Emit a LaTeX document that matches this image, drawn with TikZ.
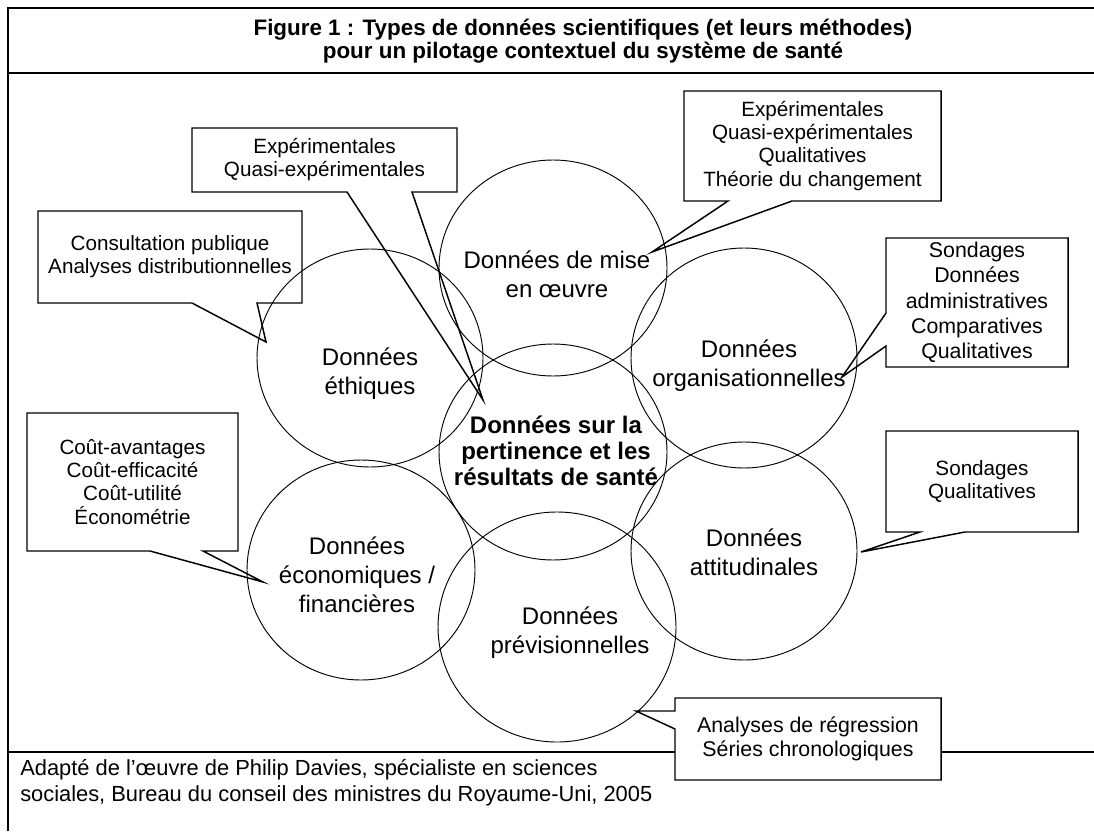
\documentclass[tikz,border=0pt]{standalone}
\usepackage{fontspec}
\setmainfont{Liberation Sans}
\begin{document}
\begin{tikzpicture}[x=0.75pt,y=-0.75pt,
  frame/.style={line width=1.3pt},
  circ/.style={line width=0.7pt},
  callout/.style={line width=1.1pt, line join=miter},
  box/.style={inner sep=0pt, outer sep=0pt, align=center, font=\fontsize{15.5}{17.3}\selectfont},
  ctext/.style={inner sep=0pt, align=center, font=\fontsize{18}{21.8}\selectfont},
  ctextb/.style={inner sep=0pt, align=center, font=\fontsize{18}{19.5}\selectfont\bfseries},
  titlestyle/.style={inner sep=0pt, align=center, font=\fontsize{16.8}{16.8}\selectfont\bfseries},
  footstyle/.style={inner sep=0pt, align=left, anchor=west, font=\fontsize{16.4}{19.5}\selectfont}]
\useasboundingbox (0,0) rectangle (1094,831);

% frame
\coordinate (tl) at (8,8);
\coordinate (tr) at (1094,8);
\coordinate (bl) at (8,831);
\coordinate (hl) at (8,73);
\coordinate (hr) at (1094,73);
\coordinate (fl) at (8,752);
\coordinate (fr) at (1094,752);
\draw[frame] (bl) -- (tl) -- (tr);
\draw[frame] (hl) -- (hr);

% title
\node[titlestyle] (title) at (583,41) {Figure 1 : Types de données scientifiques (et leurs méthodes)\\pour un pilotage contextuel du système de santé};

% circles
\coordinate (ceth) at (370,358);
\coordinate (cmise) at (553,268);
\coordinate (corg) at (744,358);
\coordinate (ccen) at (553,452);
\coordinate (ceco) at (361,570);
\coordinate (catt) at (744,551);
\coordinate (cprev) at (557,627);
\draw[circ] (ceth) ellipse [x radius=113, y radius=109];
\draw[circ] (cmise) ellipse [x radius=114, y radius=108];
\draw[circ] (corg) ellipse [x radius=113, y radius=110];
\draw[circ] (ccen) ellipse [x radius=114, y radius=108];
\draw[circ] (ceco) ellipse [x radius=114, y radius=110];
\draw[circ] (catt) ellipse [x radius=113, y radius=109];
\draw[circ] (cprev) ellipse [x radius=119, y radius=115];

% circle labels
\node[ctext] (leth) at (370,374) {Données\\éthiques};
\node[ctext] (lmise) at (557,274) {Données de mise\\en œuvre};
\node[ctext] (lorg) at (749,366) {Données\\organisationnelles};
\node[ctextb] (lcen) at (556,451) {Données sur la\\pertinence et les\\résultats de santé};
\node[ctext] (leco) at (357,575) {Données\\économiques /\\financières};
\node[ctext] (latt) at (754,552) {Données\\attitudinales};
\node[ctext] (lprev) at (570,633) {Données\\prévisionnelles};

% callout texts
\node[box, minimum width=198.75pt, minimum height=48pt] (c1) at (324.5,160) {Expérimentales\\Quasi-expérimentales};
\node[box, minimum width=198pt, minimum height=69pt] (c2) at (170,257) {Consultation publique\\Analyses distributionnelles};
\node[box, minimum width=192.75pt, minimum height=82.5pt] (c3) at (812.5,146) {Expérimentales\\Quasi-expérimentales\\Qualitatives\\Théorie du changement};
\node[box, minimum width=136.5pt, minimum height=96.75pt, font=\fontsize{16}{19}\selectfont] (c4) at (977,302.5) {Sondages\\Données\\administratives\\Comparatives\\Qualitatives};
\node[box, minimum width=144pt, minimum height=75.75pt] (c5) at (982,481.5) {Sondages\\Qualitatives};
\node[box, minimum width=158.25pt, minimum height=103.5pt] (c6) at (132.5,482) {Coût-avantages\\Coût-efficacité\\Coût-utilité\\Économétrie};
\node[box, minimum width=199.5pt, minimum height=61.5pt, font=\fontsize{16}{18.5}\selectfont] (c7) at (808,739) {Analyses de régression\\Séries chronologiques};

% pointer coordinates
\coordinate (p1a) at (347,192); \coordinate (p1b) at (412,192); \coordinate (t1) at (483,400);
\coordinate (p2a) at (192,303); \coordinate (p2b) at (257,303); \coordinate (t2) at (266,342);
\coordinate (p3a) at (728,201); \coordinate (p3b) at (792,201); \coordinate (t3) at (652,252);
\coordinate (p4a) at (886,313); \coordinate (p4b) at (886,346); \coordinate (t4) at (842,377);
\coordinate (p5a) at (920,532); \coordinate (p5b) at (965,532); \coordinate (t5) at (861,552);
\coordinate (p6a) at (150,551); \coordinate (p6b) at (203,551); \coordinate (t6) at (263,582);
\coordinate (p7a) at (675,711); \coordinate (p7b) at (675,729); \coordinate (t7) at (636,711);

% callout outlines
\draw[callout] (c1.south west) -- (c1.north west) -- (c1.north east) -- (c1.south east) -- (p1b) -- (t1) -- (p1a) -- cycle;
\draw[callout] (c2.south west) -- (c2.north west) -- (c2.north east) -- (c2.south east) -- (p2b) -- (t2) -- (p2a) -- cycle;
\draw[callout] (c3.south west) -- (c3.north west) -- (c3.north east) -- (c3.south east) -- (p3b) -- (t3) -- (p3a) -- cycle;
\draw[callout] (c4.north west) -- (c4.north east) -- (c4.south east) -- (c4.south west) -- (p4b) -- (t4) -- (p4a) -- cycle;
\draw[callout] (c5.south west) -- (c5.north west) -- (c5.north east) -- (c5.south east) -- (p5b) -- (t5) -- (p5a) -- cycle;
\draw[callout] (c6.south west) -- (c6.north west) -- (c6.north east) -- (c6.south east) -- (p6b) -- (t6) -- (p6a) -- cycle;
\draw[callout] (c7.north west) -- (c7.north east) -- (c7.south east) -- (c7.south west) -- (p7b) -- (t7) -- (p7a) -- cycle;

% footer rule
\draw[frame] (fl) -- (fl -| c7.west);
\draw[frame] (fr -| c7.east) -- (fr);

% source
\node[footstyle] (src) at (20,783) {Adapté de l’œuvre de Philip Davies, spécialiste en sciences\\sociales, Bureau du conseil des ministres du Royaume-Uni, 2005};
\end{tikzpicture}
\end{document}
